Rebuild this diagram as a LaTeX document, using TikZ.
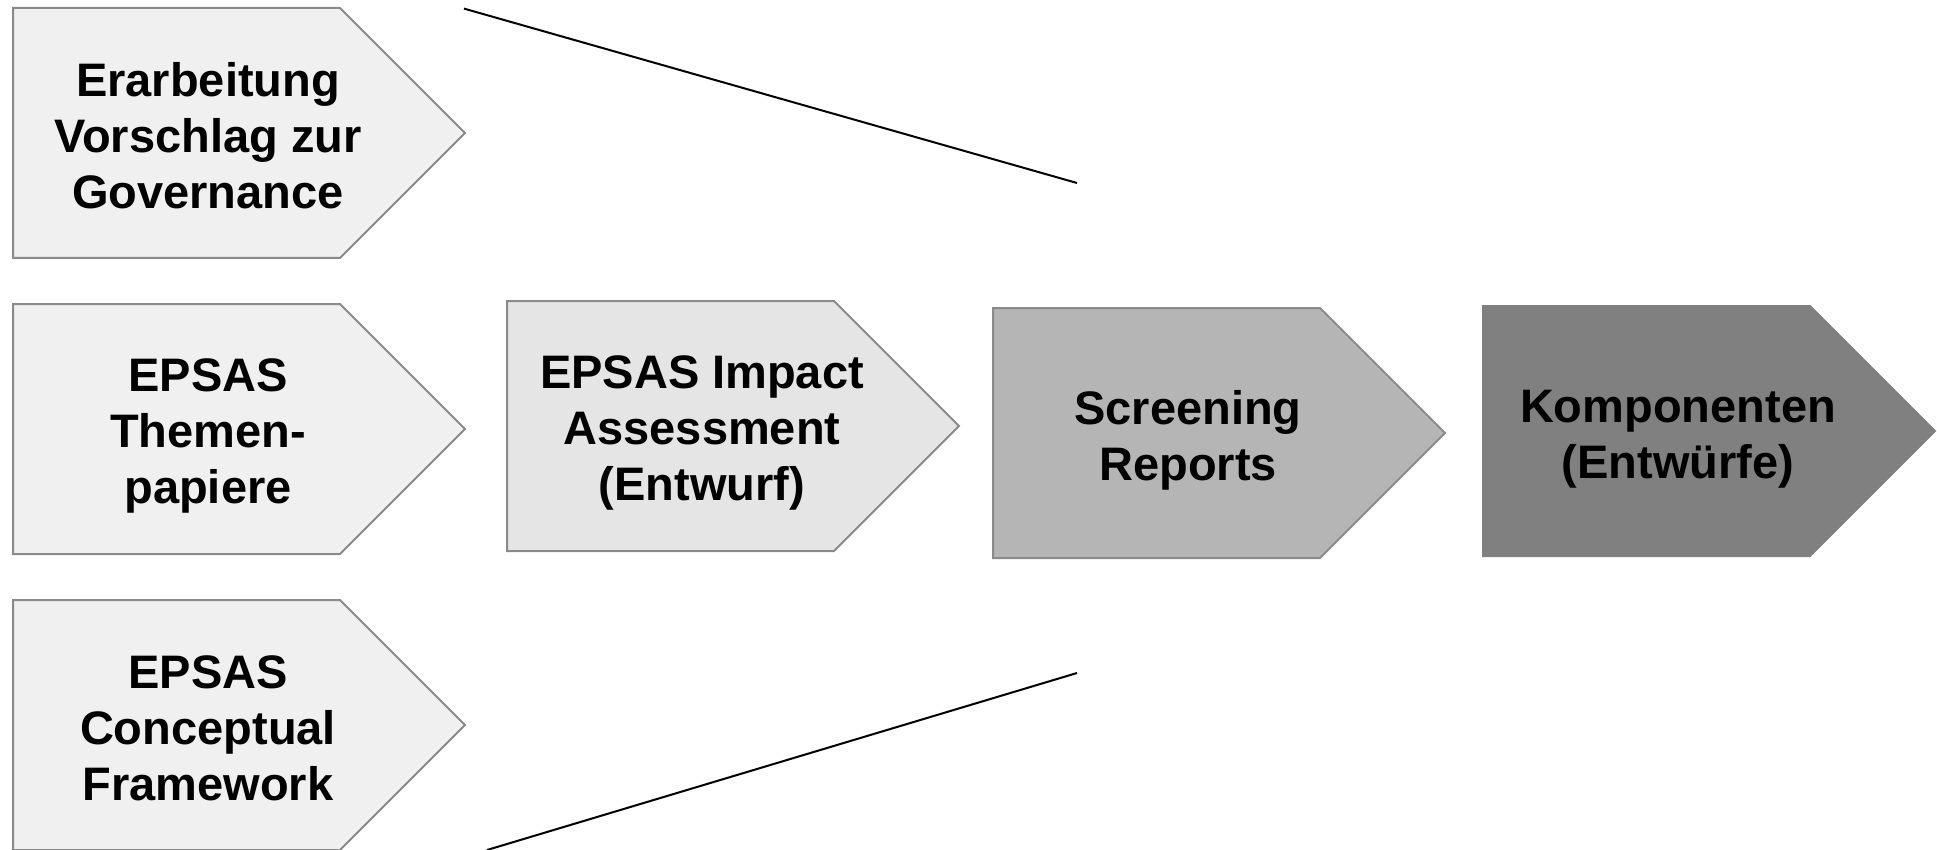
\documentclass[tikz,border=0pt]{standalone}
\usepackage{fontspec}
\setmainfont{Liberation Sans}
\begin{document}
\begin{tikzpicture}[x=0.5pt,y=-0.5pt,
  lbl/.style={align=center,font=\fontsize{23.5pt}{28pt}\selectfont\bfseries,inner sep=0pt},
  chevline/.style={draw=black,line width=1pt}]
\definecolor{cLight}{HTML}{F0F0F0}
\definecolor{cMid}{HTML}{E5E5E5}
\definecolor{cDark}{HTML}{B5B5B5}
\definecolor{cDarker}{HTML}{808080}
\definecolor{cBorder}{HTML}{8A8A8A}
\useasboundingbox (0,0) rectangle (1937,850);
\newcommand{\chev}[7]{%
  \draw[draw=#5, fill=#4, line width=1pt] (#2,#3) -- ++(327,0) -- ++(125,125) -- ++(-125,125) -- ++(-327,0) -- cycle;
  \node[lbl] (#1) at (#2+195,#3+#7) {#6};
}
\chev{gov}{13}{8}{cLight}{cBorder}{Erarbeitung\\Vorschlag zur\\Governance}{128}
\chev{themen}{13}{304}{cLight}{cBorder}{EPSAS\\Themen-\\papiere}{132}
\chev{concept}{13}{600}{cLight}{cBorder}{EPSAS\\Conceptual\\Framework}{128}
\chev{impact}{507}{301}{cMid}{cBorder}{EPSAS Impact\\Assessment\\(Entwurf)}{132}
\chev{screen}{993}{308}{cDark}{cBorder}{Screening\\Reports}{132}
\chev{komp}{1483}{306}{cDarker}{cDarker}{Komponenten\\(Entwürfe)}{133}
\coordinate (u1) at (464,8.6);
\coordinate (u2) at (1077,183);
\coordinate (l1) at (487,850);
\coordinate (l2) at (1077,673);
\draw[chevline] (u1) -- (u2);
\draw[chevline] (l1) -- (l2);
\end{tikzpicture}
\end{document}
